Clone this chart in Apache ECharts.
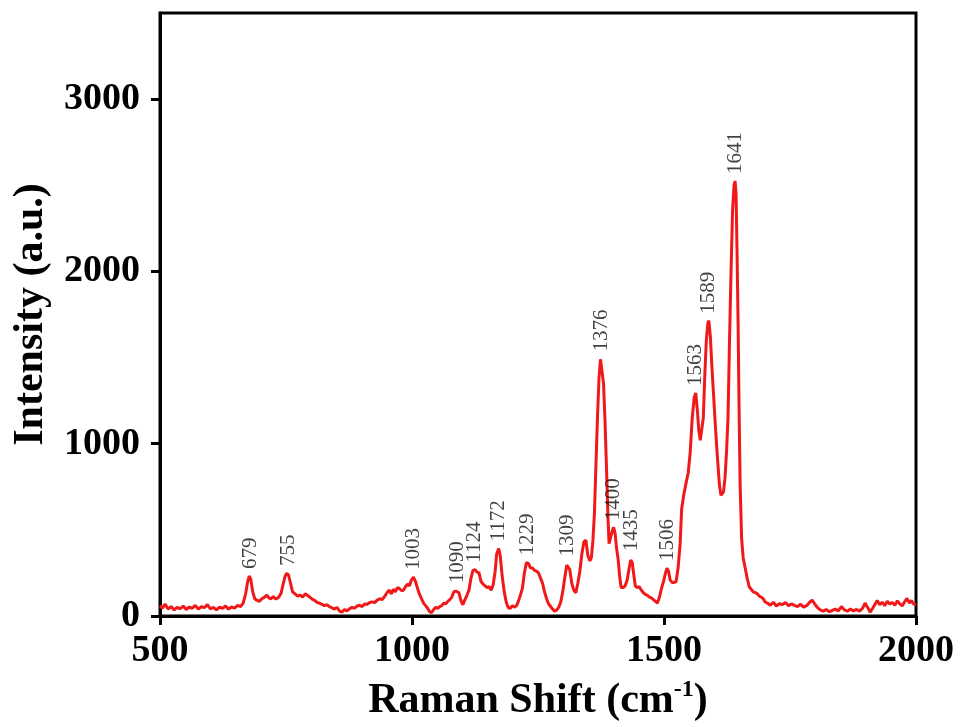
<!DOCTYPE html>
<html>
<head>
<meta charset="utf-8">
<script src="https://cdn.jsdelivr.net/npm/echarts@6/dist/echarts.min.js"></script>
<style>html,body{margin:0;padding:0;background:#fff}#c{width:960px;height:727px}</style>
</head>
<body>
<div id="c"></div>
<script>
// Raman shift (cm-1) and intensity (a.u.)
var shift = [
500,505,510,516,522,528,534,540,546,552,558,564,570,576,582,588,594,600,606,612,618,624,630,636,642,648,654,660,
665,670,674,677,680,684,688,692,697,702,707,712,716,720,725,730,735,740,744,748,751,755,759,763,768,773,778,783,788,792,797,
802,807,811,816,821,826,831,836,841,846,851,856,861,866,871,876,881,886,891,896,901,906,911,916,921,926,931,936,941,946,951,955,959,
963,967,971,975,979,983,987,991,995,999,1003,1007,1011,1015,1019,1023,1027,1031,1035,1039,1043,1047,1051,1055,1059,1063,1067,1071,1075,
1079,1083,1087,1090,1093,1097,1101,1105,1109,1113,1117,1121,1125,1129,1133,1137,1141,1145,1149,1153,1157,1161,1165,1168,1172,1175,1179,
1183,1187,1191,1195,1199,1203,1207,1211,1215,1219,1223,1227,1231,1235,1239,1243,1247,1251,1255,1259,1263,1267,1271,1275,1279,1283,1287,
1291,1295,1299,1303,1307,1310,1313,1317,1321,1325,1329,1333,1337,1341,1345,1349,1353,1356,1359,1362,1365,1368,1371,1374,1377,1380,1383,
1386,1389,1391,1394,1397,1400,1403,1406,1409,1412,1415,1419,1423,1427,1431,1434,1437,1440,1443,1447,1451,1455,1459,1463,1467,1471,1475,
1479,1483,1487,1491,1495,1499,1503,1506,1509,1512,1516,1520,1524,1528,1532,1535,1539,1543,1548,1552,1556,1560,1563,1566,1569,1572,1575,
1578,1581,1584,1587,1589,1592,1595,1598,1602,1606,1610,1613,1615,1618,1621,1624,1627,1630,1633,1636,1639,1641,1643,1645,1647,1649,1651,
1654,1657,1661,1665,1669,1673,1677,1681,1685,1689,1693,1697,1701,1705,1711,1717,1723,1729,1735,1741,1747,1753,1759,1765,1771,1777,1783,
1789,1794,1799,1804,1810,1816,1822,1828,1834,1840,1846,1852,1858,1864,1870,1876,1882,1888,1894,1899,1904,1909,1914,1919,1923,1928,1933,
1938,1943,1948,1953,1958,1963,1968,1973,1978,1982,1987,1991,1995,2000
];
var intensity = [
60,45,70,40,55,35,50,42,58,38,52,45,62,40,55,48,66,42,50,36,52,44,58,40,52,46,62,55,
75,130,200,232,215,140,100,92,85,100,108,122,105,100,112,98,108,130,180,228,248,238,190,140,128,115,122,110,128,122,110,
98,90,80,75,68,60,65,55,48,40,50,30,22,38,30,42,50,45,58,62,55,70,68,78,82,78,92,100,95,115,138,150,128,
155,140,165,160,148,150,170,185,175,210,226,200,160,125,100,75,60,45,25,20,38,50,45,55,60,75,70,85,95,
110,140,145,150,135,90,65,95,120,150,220,265,268,255,250,200,185,175,165,170,150,180,260,360,392,350,230,
140,80,48,45,60,52,58,85,120,160,250,310,305,280,278,265,260,250,220,190,140,100,70,55,40,28,35,
50,80,140,220,295,305,270,190,150,135,190,260,360,430,440,350,320,340,440,600,880,1150,1380,1490,1480,1350,1130,
850,560,420,430,490,515,480,390,330,230,165,165,175,210,280,325,310,240,175,165,170,150,135,125,120,110,105,
95,85,75,110,160,200,250,278,260,210,195,195,200,280,420,620,700,760,830,950,1150,1270,1295,1200,1080,1020,1030,
1150,1400,1600,1700,1714,1620,1450,1300,1100,920,760,700,690,720,800,950,1150,1600,2000,2350,2500,2525,2450,2100,1700,1200,770,
450,340,280,220,170,155,140,135,130,115,110,100,80,75,62,80,58,72,66,78,60,70,62,55,68,52,60,
80,92,70,50,35,28,38,25,32,40,30,55,35,28,40,30,38,28,45,75,50,22,45,70,90,65,80,
60,85,70,78,62,88,70,60,85,102,75,90,70,65
];
// labelled peaks and their heights
var peakShift = [679,755,1003,1090,1124,1172,1229,1309,1376,1400,1435,1506,1563,1589,1641];
var peakHeight = [232,250,226,150,268,392,310,305,1494,515,335,278,1295,1714,2525];
var xTicks = [500,1000,1500,2000];
var yTicks = [0,1000,2000,3000];

var lineData = shift.map(function(x,i){return [x,intensity[i]];});
var peakData = peakShift.map(function(x,i){return [x,peakHeight[i]];});

var chart = echarts.init(document.getElementById('c'));
var serif = '"Liberation Serif","Times New Roman",serif';
var plain = function(v){return String(v);};
chart.setOption({
  animation:false,
  backgroundColor:'#fff',
  grid:{left:160,right:44,top:13,bottom:111,outerBoundsMode:'none',containLabel:false,
        show:true,borderColor:'#000',borderWidth:3,backgroundColor:'transparent'},
  xAxis:{
    type:'value',min:500,max:2000,interval:500,
    name:'Raman Shift (cm{sup|-1})',nameLocation:'middle',nameGap:62,
    nameTextStyle:{fontFamily:serif,fontWeight:'bold',fontSize:42,color:'#000',lineHeight:46,
      rich:{sup:{fontFamily:serif,fontWeight:'bold',fontSize:24,color:'#000',verticalAlign:'top',lineHeight:46}}},
    axisLine:{show:true,onZero:false,lineStyle:{color:'#000',width:3}},
    axisTick:{show:true,inside:false,length:9,lineStyle:{color:'#000',width:3},customValues:xTicks},
    axisLabel:{fontFamily:serif,fontWeight:'bold',fontSize:38,color:'#000',margin:16,customValues:xTicks,formatter:plain},
    splitLine:{show:false}
  },
  yAxis:{
    type:'value',min:0,max:3500,interval:1000,
    name:'Intensity (a.u.)',nameLocation:'middle',nameGap:108,
    nameTextStyle:{fontFamily:serif,fontWeight:'bold',fontSize:42,color:'#000'},
    axisLine:{show:true,onZero:false,lineStyle:{color:'#000',width:3}},
    axisTick:{show:true,inside:false,length:9,lineStyle:{color:'#000',width:3},customValues:yTicks},
    axisLabel:{fontFamily:serif,fontWeight:'bold',fontSize:38,color:'#000',margin:20,customValues:yTicks,formatter:plain},
    splitLine:{show:false}
  },
  series:[
    {type:'line',data:lineData,showSymbol:false,symbol:'none',
     lineStyle:{color:'#f01818',width:3},z:3},
    {type:'scatter',data:peakData,symbolSize:0,itemStyle:{color:'rgba(0,0,0,0)'},z:4,
     label:{show:true,position:'top',distance:7,rotate:90,align:'left',verticalAlign:'middle',
       fontFamily:serif,fontSize:21,color:'#111',
       formatter:function(p){return String(p.value[0]);}}}
  ]
});
</script>
</body>
</html>
